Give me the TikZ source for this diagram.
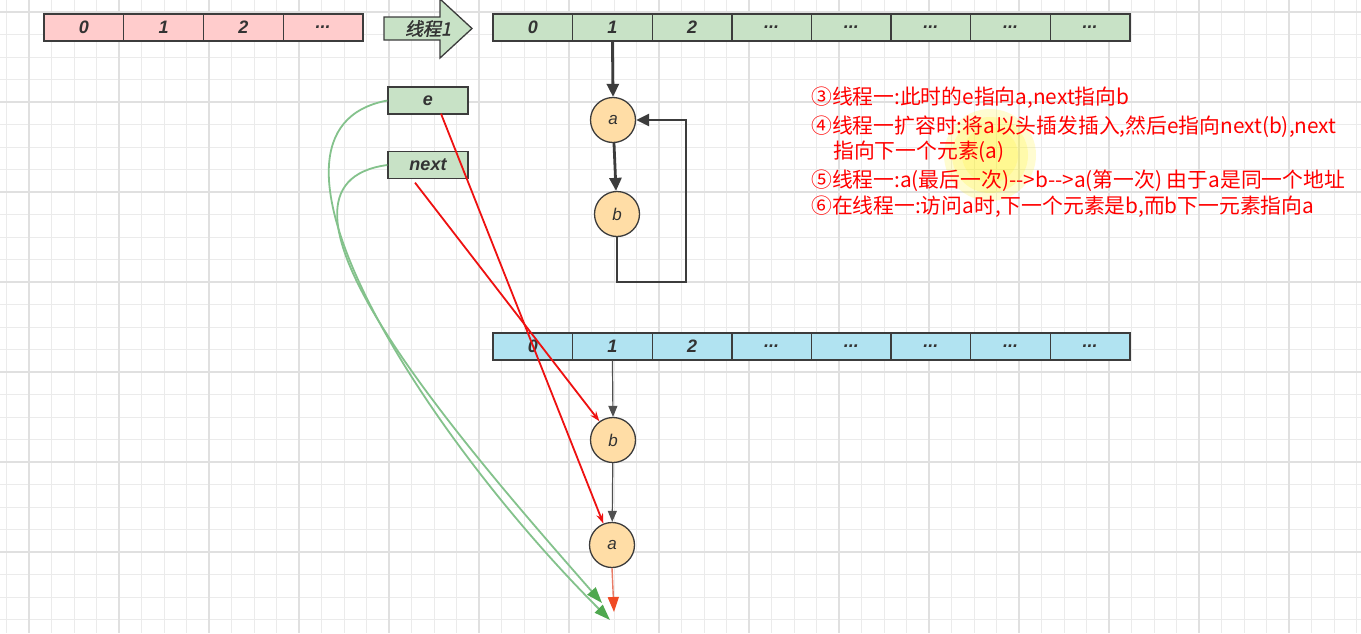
\documentclass[tikz,border=0pt]{standalone}
\usepackage{fontspec}
\setmainfont{Liberation Sans}
\newfontfamily\cjk{Noto Sans CJK SC}
\newfontfamily\cjkb[FakeBold=1.5,FakeSlant=0.2]{Noto Sans CJK SC}
\usetikzlibrary{arrows.meta,calc}
\definecolor{pinkf}{HTML}{FFCCCC}
\definecolor{greenf}{HTML}{C8E2C6}
\definecolor{bluef}{HTML}{B1E3F1}
\definecolor{nodef}{HTML}{FFDDA6}
\definecolor{edgec}{HTML}{3C3C3C}
\definecolor{txtc}{HTML}{333333}
\definecolor{gcurve}{HTML}{84C28C}
\definecolor{ghead}{HTML}{4FA84F}
\definecolor{redl}{HTML}{EE1111}
\definecolor{orl}{HTML}{E87B66}
\definecolor{orh}{HTML}{F04A24}
\definecolor{gridminor}{HTML}{EBEBEB}
\definecolor{gridmajor}{HTML}{E0E0E0}
\newcommand\tdots{...}
\tikzset{
  cellbox/.style={draw=edgec, line width=1.3pt, minimum width=79.6pt, minimum height=27pt, inner sep=0pt, font=\fontsize{18}{18}\selectfont\bfseries\itshape, text=txtc},
  pinkcell/.style={cellbox, fill=pinkf, minimum width=79.75pt},
  greencell/.style={cellbox, fill=greenf},
  bluecell/.style={cellbox, fill=bluef},
  circ/.style={circle, draw=edgec, line width=1.3pt, fill=nodef, minimum size=45pt, inner sep=0pt, font=\fontsize{17}{17}\selectfont\itshape, text=txtc},
  thickarr/.style={draw=edgec, line width=2.8pt, -{Triangle[length=13pt,width=12pt]}},
  thinarr/.style={draw=edgec!90, line width=1.2pt, -{Triangle[length=11pt,width=9pt]}},
  redarr/.style={draw=redl, line width=1.8pt, -{Stealth[length=10pt,width=7pt]}},
  garr/.style={draw=gcurve, line width=1.8pt, -{Triangle[length=16pt,width=11pt,color=ghead]}},
  note/.style={anchor=west, inner sep=0pt, text=red, font=\cjk\fontsize{20.8}{21}\selectfont},
}
\begin{document}
\begin{tikzpicture}[x=1pt,y=-1pt]
\useasboundingbox (0,0) rectangle (1361,633);
\clip (0,0) rectangle (1361,633);
\fill[white] (0,0) rectangle (1361,633);
% grid
\foreach \i in {0,...,60} { \draw[gridminor, line width=0.9pt] ({6.5+22.5*\i},0) -- ++(0,633); }
\foreach \i in {0,...,28} { \draw[gridminor, line width=0.9pt] (0,{12+22.5*\i}) -- ++(1361,0); }
\foreach \i in {0,...,15} { \draw[gridmajor, line width=1.3pt] ({29+90*\i},0) -- ++(0,633); }
\foreach \i in {0,...,7} { \draw[gridmajor, line width=1.3pt] (0,{12+90*\i}) -- ++(1361,0); }
% highlight glow
\fill[yellow, opacity=0.18] (990,155) circle (46);
\fill[yellow, opacity=0.18] (990,155) circle (38);
\fill[yellow, opacity=0.15] (990,155) circle (28);
% arrays
\foreach \t [count=\i from 0] in {0,1,2,\tdots}
  \node[pinkcell] (p\i) at ({44+79.75*(\i+0.5)},27.5) {\t};
\foreach \t [count=\i from 0] in {0,1,2,\tdots,\tdots,\tdots,\tdots,\tdots}
  \node[greencell] (g\i) at ({493+79.625*(\i+0.5)},27.5) {\t};
\foreach \t [count=\i from 0] in {0,1,2,\tdots,\tdots,\tdots,\tdots,\tdots}
  \node[bluecell] (u\i) at ({493+79.625*(\i+0.5)},346.5) {\t};
% thread arrow
\draw[draw=edgec, line width=1.3pt, fill=greenf] (384,17) -- (440,17) -- (440,-1) -- (472,28.5) -- (440,58) -- (440,40) -- (384,40) -- cycle;
\node[font=\cjkb\fontsize{18}{18}\selectfont, text=txtc] (t1) at (428,28.5) {线程1};
% pointer boxes
\node[greencell, minimum width=80pt] (e) at (428,100.5) {e};
\node[greencell, minimum width=80pt] (next) at (428,165) {next};
% upper list
\node[circ] (a1) at (613,120) {a};
\node[circ] (b1) at (617,214) {b};
\draw[thickarr] (g1.south) -- (a1.north);
\draw[thickarr] (a1) -- (b1);
\coordinate (lc) at (686,282);
\draw[thickarr] (b1.south) |- (lc) |- (a1.east);
% lower list
\node[circ] (b2) at (613,440) {b};
\node[circ] (a2) at (612,545) {a};
\draw[thinarr] (u1.south) -- (b2.north);
\draw[thinarr] (b2) -- (a2);
\coordinate (aend) at (614,612);
\draw[draw=orl, line width=1.4pt, -{Triangle[length=15pt,width=11pt,color=orh]}] (a2.south) -- (aend);
% green curves
\coordinate (ge) at (610,620);
\coordinate (gn) at (602,603);
\draw[garr] (e.west) .. controls (230,130) and (420,430) .. (ge);
\draw[garr] (next.west) .. controls (240,185) and (450,430) .. (gn);
% red lines
\draw[redarr] ($(e.south)+(13,-1)$) -- (a2.112);
\draw[redarr] ($(next.south)+(-13,3.5)$) -- (b2.126);
% notes
\node[note] (n1) at (811,98) {③线程一:此时的e指向a,next指向b};
\node[note] (n2) at (811,127) {④线程一扩容时:将a以头插发插入,然后e指向next(b),next};
\node[note] (n3) at (833,152) {指向下一个元素(a)};
\node[note] (n4) at (811,181) {⑤线程一:a(最后一次)-->b-->a(第一次) 由于a是同一个地址};
\node[note] (n5) at (811,207) {⑥在线程一:访问a时,下一个元素是b,而b下一元素指向a};
\end{tikzpicture}
\end{document}
